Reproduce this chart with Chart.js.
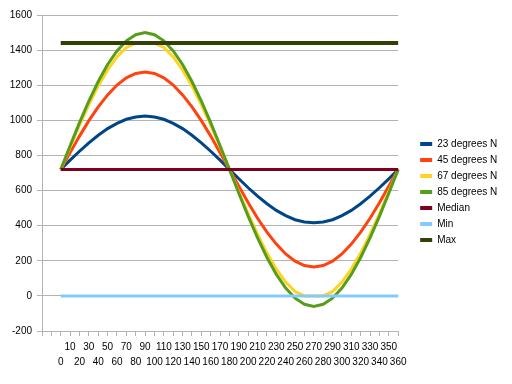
<!DOCTYPE html>
<html>
<head>
<meta charset="utf-8">
<script src="https://cdn.jsdelivr.net/npm/chart.js@4.4.1/dist/chart.umd.min.js"></script>
<style>
  html, body { margin: 0; padding: 0; background: #fff; }
  #wrap { width: 512px; height: 384px; }
</style>
</head>
<body>
<div id="wrap"><canvas id="chart" width="512" height="384"></canvas></div>
<script>
// x categories (degrees)
const angles = [0, 10, 20, 30, 40, 50, 60, 70, 80, 90, 100, 110, 120, 130, 140, 150, 160, 170, 180,
  190, 200, 210, 220, 230, 240, 250, 260, 270, 280, 290, 300, 310, 320, 330, 340, 350, 360];

const deg23 = [720, 773, 824, 872, 915, 953, 983, 1006, 1019, 1024, 1019, 1006, 983, 953, 915, 872, 824, 773, 720,
  667, 616, 568, 525, 487, 457, 434, 421, 416, 421, 434, 457, 487, 525, 568, 616, 667, 720];
const deg45 = [720, 816, 910, 998, 1077, 1145, 1201, 1242, 1267, 1275, 1267, 1242, 1201, 1145, 1077, 998, 910, 816, 720,
  624, 530, 442, 363, 295, 239, 198, 173, 165, 173, 198, 239, 295, 363, 442, 530, 624, 720];
const deg67 = [720, 848, 973, 1090, 1196, 1287, 1361, 1415, 1440, 1440, 1440, 1415, 1361, 1287, 1196, 1090, 973, 848, 720,
  592, 467, 350, 244, 153, 79, 25, 0, 0, 0, 25, 79, 153, 244, 350, 467, 592, 720];
const deg85 = [720, 855, 987, 1110, 1221, 1318, 1395, 1453, 1488, 1500, 1488, 1453, 1395, 1318, 1221, 1110, 987, 855, 720,
  585, 453, 330, 219, 122, 45, -13, -48, -60, -48, -13, 45, 122, 219, 330, 453, 585, 720];
const medianValue = 720;
const minValue = 0;
const maxValue = 1440;

const seriesNames = ['23 degrees N', '45 degrees N', '67 degrees N', '85 degrees N', 'Median', 'Min', 'Max'];
const seriesColors = ['#004586', '#ff420e', '#ffd320', '#579d1c', '#7e0021', '#83caff', '#314004'];
const seriesWidths = [3, 3, 3, 3, 3, 3, 4];

// the axis has two empty slots before 0
const lead = [null, null];
const labels = ['', ''].concat(angles.map(String));
const seriesData = [
  deg23, deg45, deg67, deg85,
  angles.map(() => medianValue),
  angles.map(() => minValue),
  angles.map(() => maxValue)
];

Chart.defaults.font.family = '"Liberation Sans", Arial, sans-serif';
Chart.defaults.font.size = 10;
Chart.defaults.color = '#000';

const gridColor = '#b3b3b3';

new Chart(document.getElementById('chart'), {
  type: 'line',
  data: {
    labels: labels,
    datasets: seriesData.map((d, i) => ({
      label: seriesNames[i],
      data: lead.concat(d),
      borderColor: seriesColors[i],
      backgroundColor: seriesColors[i],
      borderWidth: seriesWidths[i],
      pointRadius: 0,
      tension: 0,
      order: 10 - i
    }))
  },
  options: {
    responsive: false,
    animation: false,
    layout: { padding: { top: 0, left: 0, right: 15, bottom: 0 } },
    plugins: {
      tooltip: { enabled: false },
      legend: {
        position: 'right',
        align: 'center',
        labels: {
          boxWidth: 12,
          boxHeight: 4,
          padding: 6,
          color: '#000',
          sort: (a, b) => a.datasetIndex - b.datasetIndex,
          generateLabels: chart => Chart.defaults.plugins.legend.labels.generateLabels(chart)
            .map(l => Object.assign(l, { lineWidth: 0 }))
        }
      }
    },
    scales: {
      x: {
        type: 'category',
        offset: false,
        afterFit: s => { s.height = 53; },
        grid: { display: true, drawOnChartArea: false, drawTicks: true, tickLength: 5, color: gridColor },
        border: { display: true, color: gridColor },
        ticks: {
          autoSkip: false,
          maxRotation: 0,
          minRotation: 0,
          padding: 4,
          font: { lineHeight: 1.5 },
          callback: function (val, idx) {
            const t = labels[idx];
            if (t === '') return '';
            return (Number(t) / 10) % 2 === 1 ? [t] : ['', t];
          }
        }
      },
      y: {
        min: -200,
        max: 1600,
        afterFit: s => { s.width = 42; },
        grid: { color: gridColor, tickLength: 5 },
        border: { display: true, color: gridColor },
        ticks: { stepSize: 200, padding: 5, callback: v => String(v) }
      },
      topGap: {
        type: 'linear', axis: 'x', position: 'top', display: true,
        afterFit: s => { s.height = 15; },
        grid: { display: false }, border: { display: false }, ticks: { display: false }
      },
      rightGap: {
        type: 'linear', axis: 'y', position: 'right', display: true,
        afterFit: s => { s.width = 16; },
        grid: { display: false }, border: { display: false }, ticks: { display: false }
      }
    }
  }
});
</script>
</body>
</html>
